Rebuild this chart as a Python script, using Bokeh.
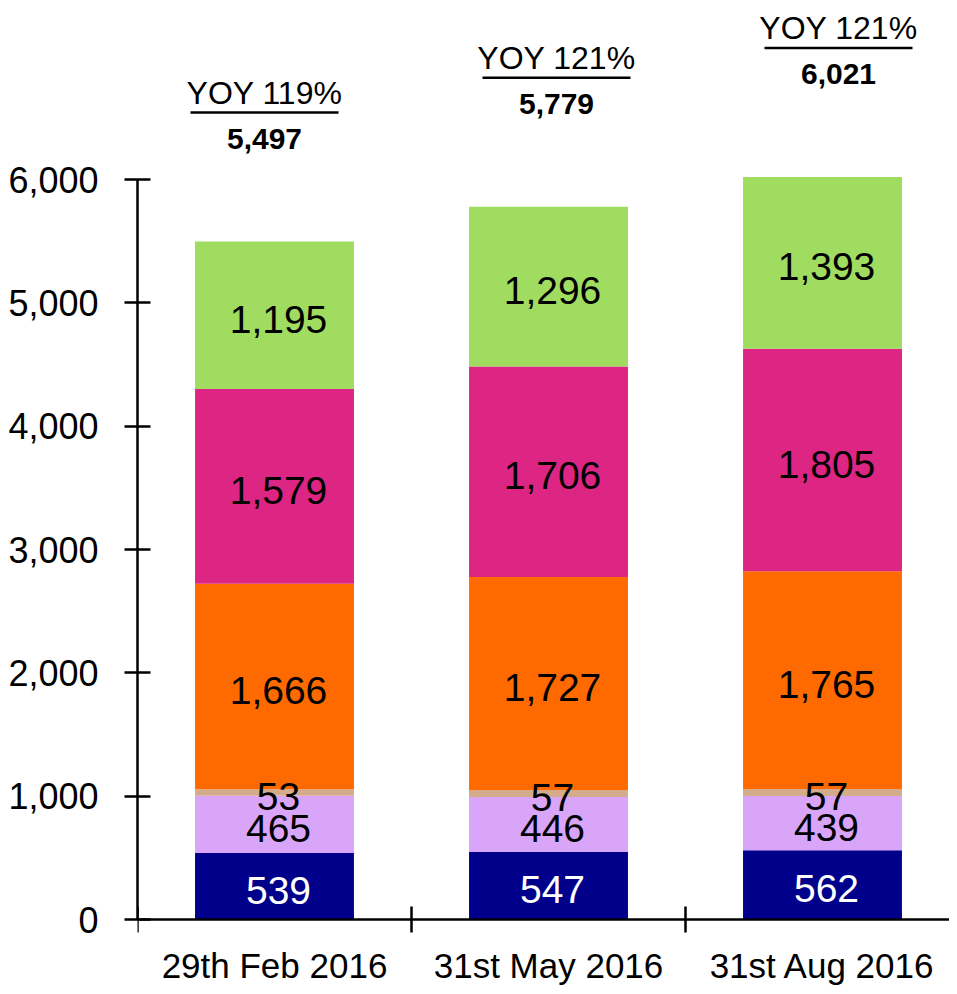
from bokeh.plotting import figure
from bokeh.models import Range1d, FixedTicker, NumeralTickFormatter, ColumnDataSource
from bokeh.core.properties import value
from bokeh.embed import file_html
from bokeh.resources import INLINE

# ---- data ----
categories = ["29th Feb 2016", "31st May 2016", "31st Aug 2016"]
seg_navy = [539, 547, 562]
seg_lavender = [465, 446, 439]
seg_tan = [53, 57, 57]
seg_orange = [1666, 1727, 1765]
seg_magenta = [1579, 1706, 1805]
seg_green = [1195, 1296, 1393]
totals = [5497, 5779, 6021]
yoy_labels = ["YOY 119%", "YOY 121%", "YOY 121%"]
y_ticks = [0, 1000, 2000, 3000, 4000, 5000, 6000]

# ---- styles / layout ----
series_names = ["navy", "lavender", "tan", "orange", "magenta", "green"]
series_values = [seg_navy, seg_lavender, seg_tan, seg_orange, seg_magenta, seg_green]
series_colors = ["#00008B", "#D9A5F9", "#D4AC8C", "#FF6A00", "#DD2683", "#A0DC5F"]
label_colors = ["white", "black", "black", "black", "black", "black"]
label_shift_px = [-10, 8, 16]

FONT = "Liberation Sans"

W, H = 949, 986
BL, BT = 137, 8
AXIS_Y = 919          # screen y of the zero line
frame_w = W - BL
cat_px = 274.0
ppu = 740.0 / 6000.0  # pixels per data unit (y)
x_end = frame_w / cat_px
y_end = (AXIS_Y - BT) / ppu
y_start = -(H - AXIS_Y) / ppu

xpos = [i + 0.5 for i in range(len(categories))]

p = figure(width=W, height=H, output_backend="svg", toolbar_location=None,
           x_range=Range1d(0, x_end), y_range=Range1d(y_start, y_end),
           min_border_left=BL, min_border_right=0, min_border_top=BT, min_border_bottom=0)
p.xgrid.visible = False
p.ygrid.visible = False
p.outline_line_color = None
p.background_fill_color = "white"
p.border_fill_color = "white"

data = {"x": xpos}
for n, v in zip(series_names, series_values):
    data[n] = v
src = ColumnDataSource(data)
p.vbar_stack(series_names, x="x", width=0.58, color=series_colors, line_color=None, source=src)

# segment labels
lx, ly, lt, lc = [], [], [], []
for i in range(len(categories)):
    base = 0
    for vals, col in zip(series_values, label_colors):
        v = vals[i]
        lx.append(xpos[i])
        ly.append(base + v / 2.0)
        lt.append(f"{v:,}")
        lc.append(col)
        base += v
p.text(x="x", y="y", text="t", text_color="c",
       source=ColumnDataSource(dict(x=lx, y=ly, t=lt, c=lc)),
       text_font=value(FONT), text_font_size="39px", text_align="center",
       text_baseline="middle", x_offset=4, y_offset=4)

# totals and YOY labels
top_src = ColumnDataSource(dict(x=xpos, y=totals, tot=[f"{t:,}" for t in totals],
                                yoy=yoy_labels, dx=label_shift_px))
p.text(x="x", y="y", text="tot", x_offset="dx", y_offset=-103, source=top_src,
       text_font=value(FONT), text_font_style="bold", text_font_size="30px",
       text_align="center", text_baseline="middle", text_color="black")
p.text(x="x", y="y", text="yoy", x_offset="dx", y_offset=-149, source=top_src,
       text_font=value(FONT), text_font_size="32px",
       text_align="center", text_baseline="middle", text_color="black")
# underline of YOY labels
p.rect(x=[xpos[i] + label_shift_px[i] / cat_px for i in range(len(xpos))],
       y=[t + 129 / ppu for t in totals],
       width=148, width_units="screen", height=2.5, height_units="screen",
       fill_color="black", line_color=None)

# category labels below the zero line
p.text(x=xpos, y=[-46 / ppu] * len(xpos), text=categories,
       text_font=value(FONT), text_font_size="35px", text_align="center",
       text_baseline="middle", text_color="black")

# axes
ya = p.yaxis[0]
ya.ticker = FixedTicker(ticks=y_ticks)
ya.formatter = NumeralTickFormatter(format="0,0")
ya.bounds = (0, 6000)
ya.axis_line_width = 2.5
ya.axis_line_color = "black"
ya.major_tick_in = 13
ya.major_tick_out = 13
ya.major_tick_line_width = 2.5
ya.major_tick_line_color = "black"
ya.minor_tick_line_color = None
ya.major_label_standoff = 26
ya.major_label_text_font = FONT
ya.major_label_text_font_size = "36px"
ya.major_label_text_color = "black"

xa = p.xaxis[0]
xa.fixed_location = 0
xa.ticker = FixedTicker(ticks=[0, 1, 2, 3])
xa.major_label_overrides = {0: "", 1: "", 2: "", 3: ""}
xa.axis_line_width = 2.5
xa.axis_line_color = "black"
xa.major_tick_in = 13
xa.major_tick_out = 13
xa.major_tick_line_width = 2.5
xa.major_tick_line_color = "black"
xa.minor_tick_line_color = None
xa.major_label_text_font_size = "10px"

open("out.html", "w").write(file_html(p, INLINE))
